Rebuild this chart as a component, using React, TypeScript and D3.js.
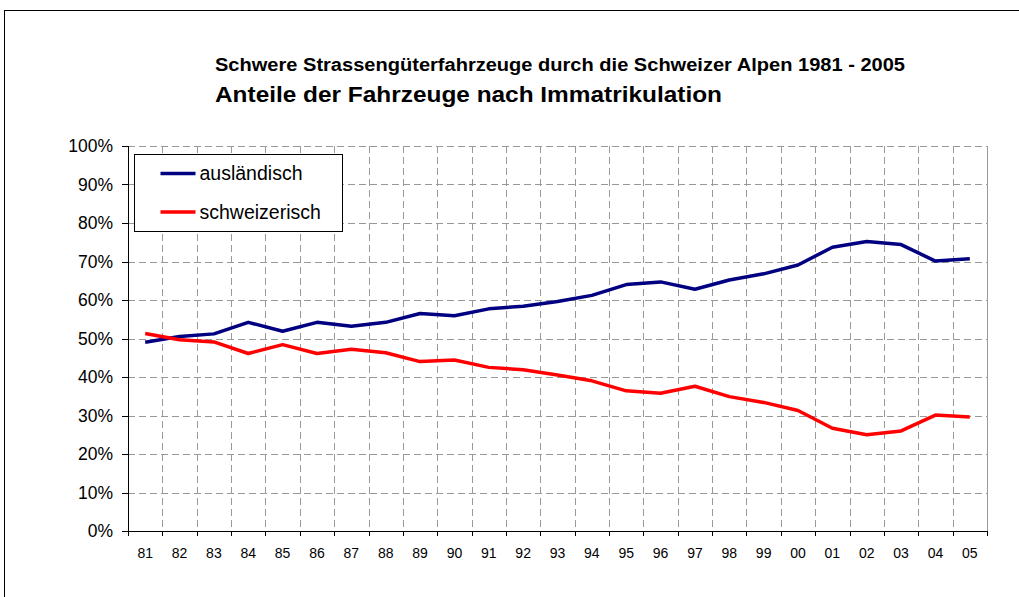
import { useMemo } from "react";
import { scaleBand, scaleLinear, line } from "d3";

const years = ["81", "82", "83", "84", "85", "86", "87", "88", "89", "90", "91", "92", "93", "94", "95", "96", "97", "98", "99", "00", "01", "02", "03", "04", "05"];
const auslaendisch = [49.0, 50.5, 51.2, 54.2, 51.9, 54.2, 53.2, 54.2, 56.5, 55.9, 57.7, 58.4, 59.6, 61.2, 64.0, 64.7, 62.8, 65.2, 66.8, 69.1, 73.7, 75.2, 74.4, 70.1, 70.7];
const schweizerisch = [51.3, 49.7, 49.1, 46.1, 48.4, 46.1, 47.2, 46.3, 44.0, 44.4, 42.5, 41.9, 40.5, 39.0, 36.4, 35.8, 37.6, 34.9, 33.4, 31.3, 26.7, 25.0, 26.0, 30.1, 29.6];
const yTicks = [0, 10, 20, 30, 40, 50, 60, 70, 80, 90, 100];
const seriesNames = ["ausländisch", "schweizerisch"];
const seriesColors = ["#000080", "#ff0000"];

const width = 1019;
const height = 597;
const margin = { top: 146, right: 32, bottom: 66, left: 128 };
const font = "'Liberation Sans', Arial, sans-serif";

export default function App() {
  const innerWidth = width - margin.left - margin.right;
  const innerHeight = height - margin.top - margin.bottom;

  const xScale = useMemo(
    () => scaleBand<string>().domain(years).range([0, innerWidth]),
    [innerWidth]
  );
  const yScale = useMemo(
    () => scaleLinear().domain([0, 100]).range([innerHeight, 0]),
    [innerHeight]
  );

  const lineGen = line<number>()
    .x((_, i) => (xScale(years[i]) as number) + xScale.bandwidth() / 2)
    .y((d) => yScale(d));

  const boundaries = years.map((y) => xScale(y) as number).concat([innerWidth]);

  return (
    <svg
      width={width}
      height={height}
      style={{ position: "absolute", left: 0, top: 0, background: "#fff" }}
      fontFamily={font}
    >
      <rect x={4.5} y={10.5} width={1030} height={620} fill="none" stroke="#000" strokeWidth={1} />

      <text x={215} y={71} fontSize={18} fontWeight="bold" fill="#000" textLength={690} lengthAdjust="spacingAndGlyphs">
        Schwere Strassengüterfahrzeuge durch die Schweizer Alpen 1981 - 2005
      </text>
      <text x={215} y={102} fontSize={22} fontWeight="bold" fill="#000" textLength={507} lengthAdjust="spacingAndGlyphs">
        Anteile der Fahrzeuge nach Immatrikulation
      </text>

      <g transform={`translate(${margin.left},${margin.top})`}>
        {/* horizontal grid */}
        {yTicks.slice(1).map((t) => (
          <line
            key={"h" + t}
            x1={0}
            x2={innerWidth}
            y1={Math.round(yScale(t)) + 0.5}
            y2={Math.round(yScale(t)) + 0.5}
            stroke="#999"
            strokeDasharray="7,4"
          />
        ))}
        {/* vertical grid */}
        {boundaries.slice(1, -1).map((b, i) => (
          <line
            key={"v" + i}
            x1={Math.round(b) + 0.5}
            x2={Math.round(b) + 0.5}
            y1={0}
            y2={innerHeight}
            stroke="#999"
            strokeDasharray="7,4"
          />
        ))}
        <line x1={innerWidth + 0.5} x2={innerWidth + 0.5} y1={0} y2={innerHeight} stroke="#999" />

        {/* axes */}
        <line x1={0.5} x2={0.5} y1={0} y2={innerHeight} stroke="#000" />
        <line x1={0} x2={innerWidth} y1={innerHeight + 0.5} y2={innerHeight + 0.5} stroke="#000" />
        {yTicks.map((t) => (
          <g key={"y" + t}>
            <line x1={-6} x2={0} y1={Math.round(yScale(t)) + 0.5} y2={Math.round(yScale(t)) + 0.5} stroke="#000" />
            <text x={-15} y={yScale(t)} dy="0.35em" textAnchor="end" fontSize={17.5} fill="#000">
              {t}%
            </text>
          </g>
        ))}
        {boundaries.map((b, i) => (
          <line key={"xt" + i} x1={Math.round(b) + 0.5} x2={Math.round(b) + 0.5} y1={innerHeight} y2={innerHeight + 5} stroke="#000" />
        ))}
        {years.map((y) => (
          <text
            key={"xl" + y}
            x={(xScale(y) as number) + xScale.bandwidth() / 2}
            y={innerHeight + 22}
            dy="0.35em"
            textAnchor="middle"
            fontSize={14}
            fill="#000"
          >
            {y}
          </text>
        ))}

        {/* series */}
        {[auslaendisch, schweizerisch].map((s, i) => (
          <path
            key={seriesNames[i]}
            d={lineGen(s) as string}
            fill="none"
            stroke={seriesColors[i]}
            strokeWidth={3.5}
            strokeLinejoin="round"
          />
        ))}
      </g>

      {/* legend */}
      <g transform="translate(134.5,154.5)">
        <rect x={0} y={0} width={208} height={77} fill="#fff" stroke="#000" />
        {seriesNames.map((n, i) => (
          <g key={n} transform={`translate(0,${19 + i * 38.5})`}>
            <line x1={26} x2={61} y1={0} y2={0} stroke={seriesColors[i]} strokeWidth={3.5} />
            <text x={65} y={0} dy="0.35em" fontSize={19.5} fill="#000">
              {n}
            </text>
          </g>
        ))}
      </g>
    </svg>
  );
}
